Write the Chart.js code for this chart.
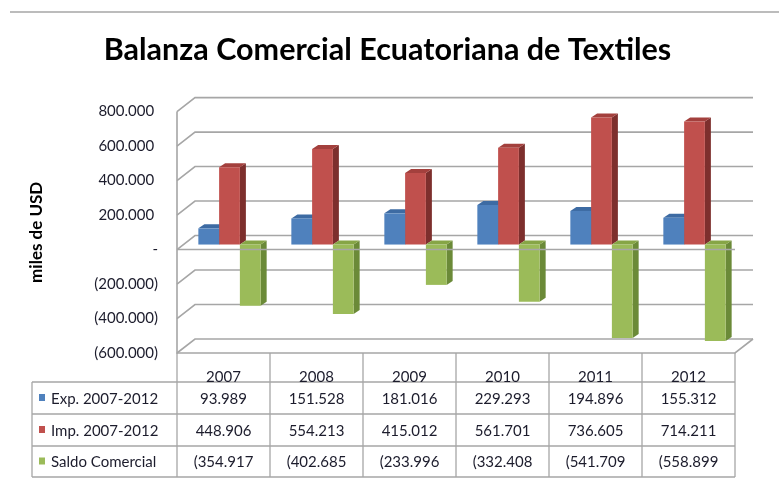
<!DOCTYPE html>
<html>
<head>
<meta charset="utf-8">
<script src="https://cdn.jsdelivr.net/npm/chart.js@4.4.1/dist/chart.umd.min.js"></script>
<style>
  html, body { margin: 0; padding: 0; background: #fff; }
  #wrap { width: 779px; height: 479px; }
</style>
</head>
<body>
<div id="wrap"><canvas id="chart" width="779" height="479"></canvas></div>
<script>
// Data
const years = ["2007", "2008", "2009", "2010", "2011", "2012"];
const exportsData = [93989, 151528, 181016, 229293, 194896, 155312];
const importsData = [448906, 554213, 415012, 561701, 736605, 714211];
const balanceData = [-354917, -402685, -233996, -332408, -541709, -558899];
const seriesNames = ["Exp. 2007-2012", "Imp. 2007-2012", "Saldo Comercial"];
const yTickValues = [800000, 600000, 400000, 200000, 0, -200000, -400000, -600000];

// Colors: front, top, side
const frontColors = ["#4f81bd", "#c0504d", "#9bbb59"];
const topColors = ["#3d6ba3", "#a3403d", "#86a546"];
const sideColors = ["#345a8a", "#7d2f2d", "#6b8a38"];

const FONT = "Lato, 'Open Sans', sans-serif";
const GRID = "#a6a6a6";
const WALL = { x: 18, y: -14 };      // depth of the back wall
const SHIFT = { x: 6, y: -5 };       // bars sit a bit behind the front plane
const BAR_DEPTH = { x: 6, y: -4 };

function withDots(n) {
  return String(Math.abs(n)).replace(/\B(?=(\d{3})+(?!\d))/g, ".");
}

function axisLabel(v) {
  if (v === 0) return "-";
  if (v < 0) return "(" + withDots(v) + ")";
  return withDots(v) + " ";
}

// Excel cuts the closing paren off in the data table
function tableLabel(v) {
  return v < 0 ? "(" + withDots(v) : withDots(v);
}

function poly(ctx, pts) {
  ctx.beginPath();
  ctx.moveTo(pts[0][0], pts[0][1]);
  for (let i = 1; i < pts.length; i++) ctx.lineTo(pts[i][0], pts[i][1]);
  ctx.closePath();
  ctx.fill();
}

// Back wall grid, side wall, floor + 3d faces of the bars
const box3d = {
  id: "box3d",
  beforeDatasetsDraw(chart) {
    const { ctx, chartArea: a, scales: { y } } = chart;
    ctx.save();
    ctx.strokeStyle = GRID;
    ctx.lineWidth = 1.6;
    y.ticks.forEach(t => {
      const py = y.getPixelForValue(t.value);
      ctx.beginPath();
      ctx.moveTo(a.left, py);
      ctx.lineTo(a.left + WALL.x, py + WALL.y);
      ctx.lineTo(a.right + WALL.x, py + WALL.y);
      ctx.stroke();
    });
    ctx.beginPath();
    ctx.moveTo(a.left, a.top);
    ctx.lineTo(a.left, a.bottom);
    ctx.lineTo(a.right, a.bottom);
    ctx.lineTo(a.right + WALL.x, a.bottom + WALL.y);
    ctx.stroke();
    ctx.restore();

    // shift the bars back, restored in afterDatasetsDraw
    ctx.save();
    ctx.translate(SHIFT.x, SHIFT.y);
    chart.data.datasets.forEach((ds, i) => {
      chart.getDatasetMeta(i).data.forEach(bar => {
        const p = bar.getProps(["x", "y", "base", "width"], true);
        const l = p.x - p.width / 2, r = p.x + p.width / 2;
        const top = Math.min(p.y, p.base), bot = Math.max(p.y, p.base);
        const dx = BAR_DEPTH.x, dy = BAR_DEPTH.y;
        ctx.fillStyle = sideColors[i];
        poly(ctx, [[r, top], [r + dx, top + dy], [r + dx, bot + dy], [r, bot]]);
        ctx.fillStyle = topColors[i];
        poly(ctx, [[l, top], [l + dx, top + dy], [r + dx, top + dy], [r, top]]);
      });
    });
  },
  afterDatasetsDraw(chart) {
    const { ctx, chartArea: a, scales: { x, y } } = chart;
    ctx.restore();

    ctx.save();
    ctx.strokeStyle = GRID;
    ctx.lineWidth = 1.6;
    // front edge of the zero plane
    const y0 = y.getPixelForValue(0);
    ctx.beginPath();
    ctx.moveTo(a.left, y0);
    ctx.lineTo(a.right, y0);
    ctx.stroke();

    // chart border line on top
    ctx.beginPath();
    ctx.moveTo(10, 12);
    ctx.lineTo(779, 12);
    ctx.stroke();

    // data table
    const colW = (a.right - a.left) / years.length;
    const tableLeft = 32;
    const rows = [a.bottom + 29, a.bottom + 61, a.bottom + 93, a.bottom + 124];
    ctx.lineWidth = 1.3;
    rows.forEach(ry => {
      ctx.beginPath();
      ctx.moveTo(tableLeft, ry);
      ctx.lineTo(a.right, ry);
      ctx.stroke();
    });
    ctx.beginPath();
    ctx.moveTo(tableLeft, rows[0]);
    ctx.lineTo(tableLeft, rows[3]);
    ctx.stroke();
    for (let i = 0; i <= years.length; i++) {
      const bx = x.getPixelForValue(Math.min(i, years.length - 1)) + (i < years.length ? -colW / 2 : colW / 2);
      ctx.beginPath();
      ctx.moveTo(bx, a.bottom);
      ctx.lineTo(bx, rows[3]);
      ctx.stroke();
    }

    ctx.fillStyle = "#1c1c2c";
    ctx.font = "15px " + FONT;
    ctx.textAlign = "center";
    ctx.textBaseline = "middle";
    const series = [exportsData, importsData, balanceData];
    years.forEach((yr, i) => {
      const cx = x.getPixelForValue(i);
      ctx.fillText(yr, cx, a.bottom + 24);
      series.forEach((vals, s) => {
        ctx.fillText(tableLabel(vals[i]), cx, (rows[s] + rows[s + 1]) / 2 + 1);
      });
    });

    ctx.textAlign = "left";
    seriesNames.forEach((name, s) => {
      const cy = (rows[s] + rows[s + 1]) / 2;
      ctx.fillStyle = frontColors[s];
      ctx.fillRect(39, cy - 4, 6, 7);
      ctx.fillStyle = "#1c1c2c";
      ctx.fillText(name, 51, cy + 1);
    });
    ctx.restore();
  }
};

new Chart(document.getElementById("chart"), {
  type: "bar",
  data: {
    labels: years,
    datasets: [
      { label: seriesNames[0], data: exportsData, backgroundColor: frontColors[0] },
      { label: seriesNames[1], data: importsData, backgroundColor: frontColors[1] },
      { label: seriesNames[2], data: balanceData, backgroundColor: frontColors[2] }
    ]
  },
  options: {
    responsive: false,
    animation: false,
    layout: { padding: { left: 0, right: 4, top: 0, bottom: 126 } },
    datasets: {
      bar: { categoryPercentage: 0.67, barPercentage: 1.0, borderWidth: 0, clip: false }
    },
    plugins: {
      legend: { display: false },
      tooltip: { enabled: false },
      title: {
        display: true,
        text: "Balanza Comercial Ecuatoriana de Textiles",
        color: "#000",
        font: { family: FONT, size: 30.5, weight: "bold", lineHeight: 1.2 },
        padding: { top: 32, bottom: 43 }
      }
    },
    scales: {
      x: { display: false },
      y: {
        min: -600000,
        max: 800000,
        afterBuildTicks(scale) {
          scale.ticks = yTickValues.map(v => ({ value: v }));
        },
        afterFit(scale) {
          scale.width = 177;
        },
        grid: { display: false },
        border: { display: false },
        ticks: {
          color: "#1c1c2c",
          padding: 11,
          font: { family: FONT, size: 15 },
          callback: v => axisLabel(v)
        },
        title: {
          display: true,
          text: "miles de USD",
          color: "#000",
          font: { family: FONT, size: 17, weight: "bold" },
          padding: { top: 26, bottom: 0 }
        }
      },
      // empty spacer on the right so the plot ends where the wall ends
      spacer: {
        type: "linear",
        position: "right",
        afterFit(scale) {
          scale.width = 40;
        },
        grid: { display: false },
        border: { display: false },
        ticks: { display: false }
      }
    }
  },
  plugins: [box3d]
});
</script>
</body>
</html>
